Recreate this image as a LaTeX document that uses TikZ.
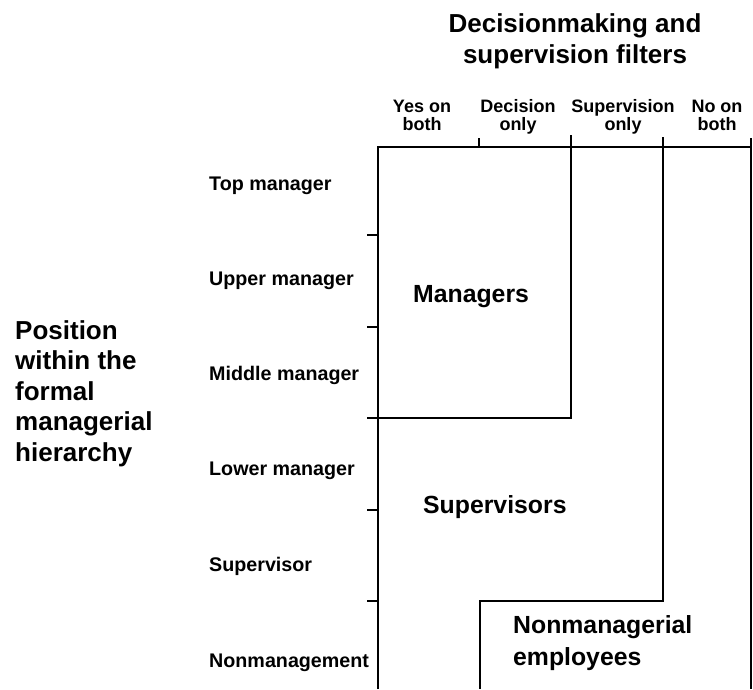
\documentclass[tikz,border=0pt]{standalone}
\usepackage{fontspec}
\setmainfont{Liberation Sans}
\usetikzlibrary{positioning}

\tikzset{
  bigtext/.style={inner sep=0pt, font=\bfseries\fontsize{26}{30.5}\selectfont},
  colhead/.style={anchor=base, inner sep=0pt, align=center, font=\bfseries\fontsize{18}{18}\selectfont},
  rowlabel/.style={anchor=base west, inner sep=0pt, font=\bfseries\fontsize{19.7}{22}\selectfont},
  group/.style={anchor=base west, inner sep=0pt, align=left, font=\bfseries\fontsize{24.8}{32}\selectfont},
  frame/.style={line width=1.3pt}
}

\begin{document}
\begin{tikzpicture}[x=1pt,y=-1pt]
\useasboundingbox (0,0) rectangle (753,689);

	% multi-line nodes sit on their last line
	\node[bigtext, anchor=base, align=center] (filters) at (575,63) {Decisionmaking and\\supervision filters};
	\node[bigtext, anchor=base west, align=left] (position) at (15,461) {Position\\within the\\formal\\managerial\\hierarchy};
	
	\node[colhead] (yes) at (422,130) {Yes on\\both};
	\node[colhead] (dec) at (518,130) {Decision\\only};
	\node[colhead] (sup) at (623,130) {Supervision\\only};
	\node[colhead] (no) at (717,130) {No on\\both};
	
	\node[rowlabel] (top) at (209,190) {Top manager};
	\node[rowlabel] (upper) at (209,285) {Upper manager};
	\node[rowlabel] (middle) at (209,380) {Middle manager};
	\node[rowlabel] (lower) at (209,475) {Lower manager};
	\node[rowlabel] (super) at (209,571) {Supervisor};
	\node[rowlabel] (nonmgt) at (209,667) {Nonmanagement};
	
	\node[group] (mgrs) at (413,302) {Managers};
	\node[group] (sups) at (423,513) {Supervisors};
	\node[group] (emps) at (513,665) {Nonmanagerial\\employees};
	
	\coordinate (tl) at (378,147);
	\coordinate (tr) at (751,147);
	\coordinate (bl) at (378,689);
	\coordinate (br) at (751,689);
	
	\draw[frame] (bl) -- (tl) -- (tr) -- (br);
	\draw[frame] (479,138) -- (479,147);
	\draw[frame] (751,138) -- (751,147);
	\draw[frame] (571,135) -- (571,418) -- (367,418);
	\draw[frame] (663,137) -- (663,601) -- (480,601) -- (480,689);
	\foreach \y in {235,327,510,601}
		\draw[frame] (367,\y) -- (378,\y);
	
\end{tikzpicture}
\end{document}
